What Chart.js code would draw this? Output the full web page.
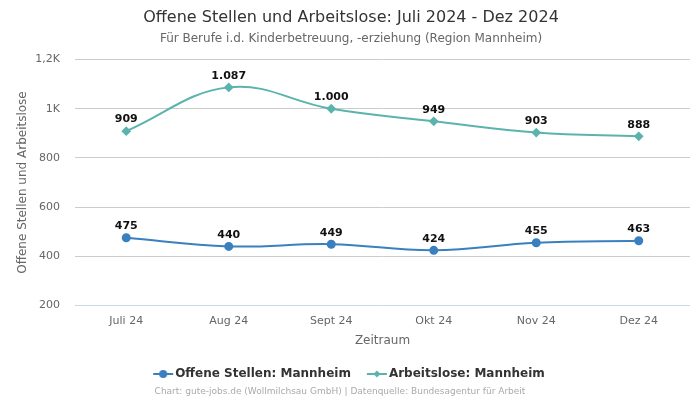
<!DOCTYPE html>
<html>
<head>
<meta charset="utf-8">
<script src="https://cdn.jsdelivr.net/npm/chart.js@4/dist/chart.umd.min.js"></script>
<style>
  html, body { margin: 0; padding: 0; background: #fff; }
  #wrap { width: 700px; height: 400px; }
</style>
</head>
<body>
<div id="wrap"><canvas id="chart" width="700" height="400"></canvas></div>
<script>
const monate = ['Juli 24', 'Aug 24', 'Sept 24', 'Okt 24', 'Nov 24', 'Dez 24'];
const offene_stellen = [475, 440, 449, 424, 455, 463];
const arbeitslose = [909, 1087, 1000, 949, 903, 888];
const y_ticks = [200, 400, 600, 800, 1000, 1200];

const blau = '#3a80bf';
const tuerkis = '#5ab4ad';

function fmt(v) {
    return v.toLocaleString('de-DE');
}

// legend icon: short line with marker in the middle
function legendIcon(color, diamond) {
    const c = document.createElement('canvas');
    c.width = 22; c.height = 10;
    const g = c.getContext('2d');
    g.strokeStyle = color; g.fillStyle = color; g.lineWidth = 2;
    g.beginPath(); g.moveTo(1, 5); g.lineTo(21, 5); g.stroke();
    g.beginPath();
    if (diamond) {
        g.moveTo(11, 1.5); g.lineTo(14.5, 5); g.lineTo(11, 8.5); g.lineTo(7.5, 5);
    } else {
        g.arc(11, 5, 4, 0, Math.PI * 2);
    }
    g.fill();
    return c;
}

const pointLabels = {
    id: 'pointLabels',
    afterDatasetsDraw(chart) {
        const ctx = chart.ctx;
        ctx.save();
        ctx.font = 'bold 11px "DejaVu Sans"';
        ctx.fillStyle = '#111';
        ctx.textAlign = 'center';
        ctx.textBaseline = 'bottom';
        chart.data.datasets.forEach((ds, i) => {
            chart.getDatasetMeta(i).data.forEach((pt, j) => {
                ctx.fillText(fmt(ds.data[j]), pt.x, pt.y - 6);
            });
        });
        ctx.restore();
    }
};

const footer = {
    id: 'footer',
    afterDraw(chart) {
        const ctx = chart.ctx;
        ctx.save();
        ctx.font = '9px "DejaVu Sans"';
        ctx.fillStyle = '#aaa';
        ctx.textAlign = 'center';
        ctx.textBaseline = 'middle';
        ctx.fillText('Chart: gute-jobs.de (Wollmilchsau GmbH) | Datenquelle: Bundesagentur für Arbeit', 340, 392);
        ctx.restore();
    }
};

const ctx = document.getElementById('chart').getContext('2d');

new Chart(ctx, {
    type: 'line',
    data: {
        labels: monate,
        datasets: [{
            label: 'Offene Stellen: Mannheim',
            data: offene_stellen,
            borderColor: blau,
            backgroundColor: blau,
            borderWidth: 2,
            pointRadius: 3.5,
            pointStyle: 'circle',
            tension: 0.4
        }, {
            label: 'Arbeitslose: Mannheim',
            data: arbeitslose,
            borderColor: tuerkis,
            backgroundColor: tuerkis,
            borderWidth: 2,
            pointRadius: 3.5,
            pointStyle: 'rectRot',
            tension: 0.4
        }]
    },
    options: {
        responsive: false,
        animation: false,
        layout: { padding: { left: 12, right: 10, top: 0, bottom: 10 } },
        plugins: {
            title: {
                display: true,
                text: 'Offene Stellen und Arbeitslose: Juli 2024 - Dez 2024',
                color: '#333',
                font: { family: 'DejaVu Sans', size: 16, weight: 'normal' },
                padding: { top: 8, bottom: 4 }
            },
            subtitle: {
                display: true,
                text: 'Für Berufe i.d. Kinderbetreuung, -erziehung (Region Mannheim)',
                color: '#666',
                font: { family: 'DejaVu Sans', size: 12 },
                padding: { bottom: 14 }
            },
            legend: {
                position: 'bottom',
                labels: {
                    usePointStyle: true,
                    color: '#333',
                    font: { family: 'DejaVu Sans', size: 12, weight: 'bold' },
                    padding: 20,
                    generateLabels(chart) {
                        return chart.data.datasets.map((ds, i) => ({
                            text: ds.label,
                            pointStyle: legendIcon(ds.borderColor, i === 1),
                            fontColor: '#333',
                            datasetIndex: i,
                            hidden: false
                        }));
                    }
                }
            },
            tooltip: { enabled: false }
        },
        scales: {
            x: {
                offset: true,
                grid: { display: false, drawTicks: false },
                border: { display: false },
                ticks: { color: '#666', padding: 9, font: { family: 'DejaVu Sans', size: 11 } },
                title: {
                    display: true,
                    text: 'Zeitraum',
                    color: '#666',
                    padding: { top: -3, bottom: 0 },
                    font: { family: 'DejaVu Sans', size: 12 }
                }
            },
            y: {
                min: 200,
                max: 1200,
                afterBuildTicks(axis) {
                    axis.ticks = y_ticks.map(v => ({ value: v }));
                },
                afterFit(axis) {
                    axis.width = 63;
                },
                grid: {
                    color: c => c.tick && c.tick.value === 200 ? '#ccd6eb' : '#ccc',
                    drawTicks: false
                },
                border: { display: false },
                ticks: {
                    color: '#666',
                    padding: 15,
                    font: { family: 'DejaVu Sans', size: 11 },
                    callback(v) {
                        return v >= 1000 ? fmt(v / 1000) + 'K' : v;
                    }
                },
                title: {
                    display: true,
                    text: 'Offene Stellen und Arbeitslose',
                    color: '#666',
                    font: { family: 'DejaVu Sans', size: 12 }
                }
            }
        }
    },
    plugins: [pointLabels, footer]
});
</script>
</body>
</html>
